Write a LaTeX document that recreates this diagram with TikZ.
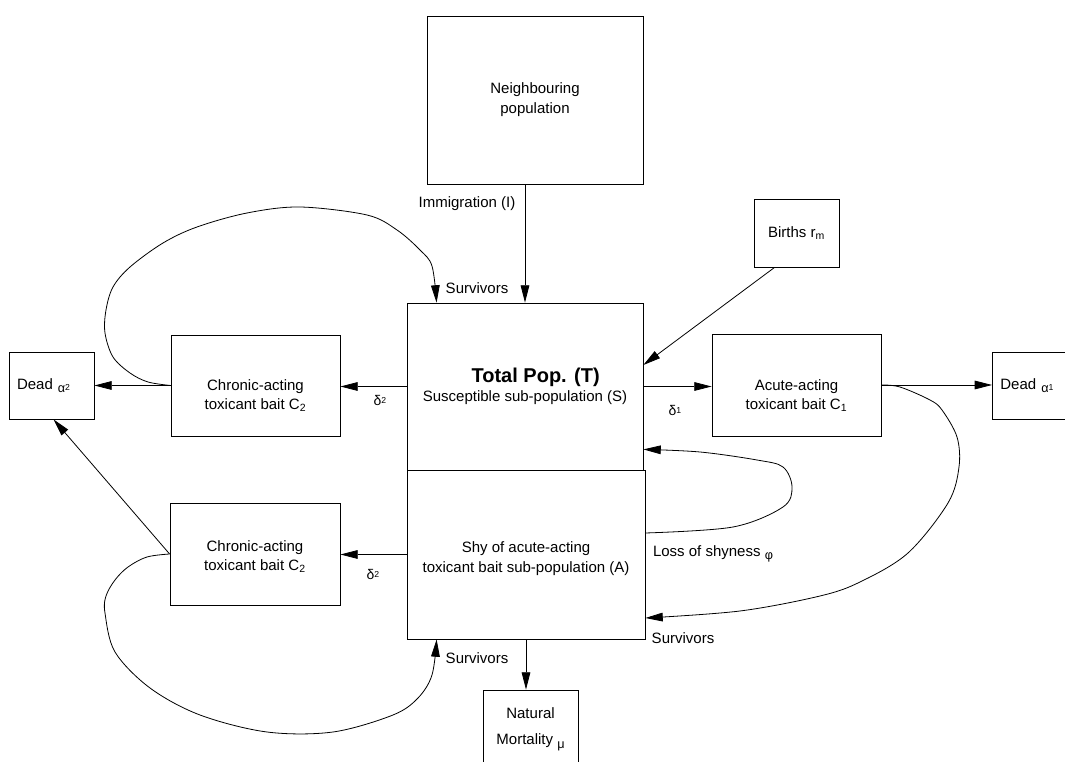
\documentclass[tikz,border=0pt]{standalone}
\usepackage{fontspec}
\setmainfont{Liberation Sans}
\usetikzlibrary{arrows.meta,calc}
\newcommand\normfont{\fontsize{11.25}{15}\selectfont}
\newcommand\tightfont{\fontsize{11.25}{14}\selectfont}
\newcommand\grk[1]{\raisebox{-2.5pt}{\fontsize{9.5}{10}\selectfont #1}}
\newcommand\grktwo[2]{\raisebox{-2.5pt}{\fontsize{9.5}{10}\selectfont #1\raisebox{1.5pt}{\fontsize{6.5}{7}\selectfont #2}}}
\newcommand\dlt[1]{{\fontsize{10.5}{11}\selectfont δ\raisebox{0.8pt}{\fontsize{6.5}{7}\selectfont #1}}}
\tikzset{
  box/.style={draw, line width=0.6pt, rectangle, inner sep=0pt, align=center, font=\normfont},
  deadbox/.style={draw, line width=0.6pt, rectangle, inner xsep=6pt, inner ysep=0pt, align=left, font=\normfont},
  arr/.style={line width=0.6pt, -{Triangle[length=13pt,width=6.5pt]}},
  lbl/.style={inner sep=0pt, font=\normfont},
}
\begin{document}
\begin{tikzpicture}[x=0.75pt,y=-0.75pt]
\useasboundingbox (0,0) rectangle (1065,762);
\clip (0,0) rectangle (1065,762);
% boxes
\node[box, minimum width=216*0.75pt, minimum height=168*0.75pt] (neigh) at (535,100) {Neighbouring\\ population};
\node[box, minimum width=236*0.75pt, minimum height=167*0.75pt] (total) at (525,386.5)
  {\hspace*{16pt}{\fontsize{15}{18}\selectfont\bfseries Total Pop. (T)}\\[-1pt]Susceptible sub-population (S)};
\node[box, minimum width=238*0.75pt, minimum height=169*0.75pt] (shy) at (526,554.5)
  {\rule{0pt}{14pt}Shy of acute-acting\\ toxicant bait sub-population (A)};
\node[box, font=\tightfont, minimum width=169*0.75pt, minimum height=101*0.75pt] (c2up) at (255.5,385.5)
  {\rule{0pt}{23pt}Chronic-acting\\ toxicant bait C\textsubscript{2}};
\node[box, font=\tightfont, minimum width=170*0.75pt, minimum height=102*0.75pt] (c2lo) at (255,554)
  {\rule{0pt}{12.5pt}Chronic-acting\\ toxicant bait C\textsubscript{2}};
\node[deadbox, text width=(85-16)*0.75pt, minimum height=67*0.75pt] (dead2) at (51.5,385.5)
  {Dead \grktwo{α}{2}};
\node[box, font=\tightfont, minimum width=169*0.75pt, minimum height=102*0.75pt] (acute) at (796.5,385)
  {\rule{0pt}{24pt}Acute-acting\\ toxicant bait C\textsubscript{1}};
\node[deadbox, anchor=west, text width=(90-16)*0.75pt, minimum height=67*0.75pt] (dead1) at (992,385.5)
  {Dead \grktwo{α}{1}};
\node[box, minimum width=85*0.75pt, minimum height=68*0.75pt] (births) at (796.5,233)
  {Births r\textsubscript{m}};
\node[box, minimum width=95*0.75pt, minimum height=78*0.75pt] (nat) at (530.5,729)
  {Natural\\[5pt] Mortality \grk{μ}};
% labels
\node[lbl] (immig) at (467,204) {Immigration (I)};
\node[lbl] (surv1) at (477,288) {Survivors};
\node[lbl] (d2a) at (380,400) {\dlt{2}};
\node[lbl] (d2b) at (373,574) {\dlt{2}};
\node[lbl] (d1) at (675,410) {\dlt{1}};
\node[lbl] (loss) at (713,554) {Loss of shyness \grk{φ}};
\node[lbl] (surv2) at (683,638) {Survivors};
\node[lbl] (surv3) at (477,658) {Survivors};
% helper coordinates
\coordinate (bstart) at ($(births.south west)+(21,0)$);
\coordinate (bend) at ($(total.east)+(0,-21.5)$);
\coordinate (s1end) at ($(total.north west)+(30,0)$);
\coordinate (s3end) at ($(shy.south west)+(30,0)$);
\coordinate (s2end) at ($(shy.east)+(0,63.5)$);
\coordinate (lstart) at ($(shy.east)+(0,-21.5)$);
\coordinate (lend) at ($(total.south east)+(0,-21)$);
\coordinate (d2tip) at ($(dead2.south)+(2,0)$);
% straight connectors
\draw[arr] (total.north |- neigh.south) -- (total.north);
\draw[arr] (bstart) -- (bend);
\draw[arr] (total.west) -- (total.west -| c2up.east);
\draw[arr] (c2up.west) -- (c2up.west -| dead2.east);
\draw[arr] (shy.west) -- (shy.west -| c2lo.east);
\draw[arr] (c2lo.west) -- (d2tip);
\draw[arr] (shy.south) -- (shy.south |- nat.north);
\draw[arr] (total.east) -- (total.east -| acute.west);
\draw[arr] (acute.east) -- (acute.east -| dead1.west);
% curved connectors
\draw[arr] plot[smooth, tension=0.55] coordinates {(c2up.west) (148,382) (130,373) (113,357) (105,333) (106,310) (113,287) (130,267) (163,243) (197,227) (247,213) (300,207) (367,215) (397,230) (420,250) (432,266) (s1end)};
\draw[arr] plot[smooth, tension=0.55] coordinates {(c2lo.west) (147,557) (128,567) (115,580) (106,596) (105,613) (115,652) (150,688) (200,715) (267,732) (333,732) (393,715) (418,698) (432,675) (s3end)};
\draw[arr] plot[smooth, tension=0.55] coordinates {(acute.east) (900,387) (930,400) (942,410) (957,437) (959,467) (948,503) (908,553) (860,582) (820,596) (740,611) (s2end)};
\draw[arr] plot[smooth, tension=0.55] coordinates {(lstart) (733,527) (783,507) (792,487) (783,467) (757,460) (700,452) (lend)};
\end{tikzpicture}
\end{document}
